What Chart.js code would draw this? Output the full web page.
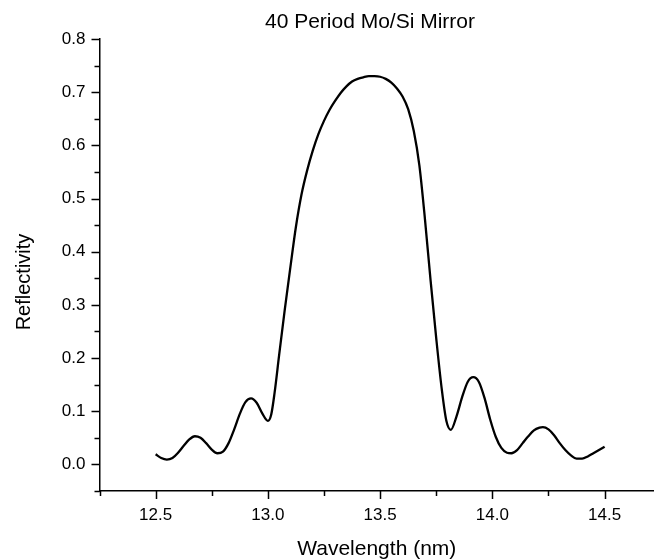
<!DOCTYPE html>
<html>
<head>
<meta charset="utf-8">
<script src="https://cdn.jsdelivr.net/npm/chart.js@4/dist/chart.umd.min.js"></script>
<style>
  html, body { margin: 0; padding: 0; background: #fff; }
</style>
</head>
<body>
<canvas id="chart" width="654" height="559"></canvas>
<script>
const chartTitle = '40 Period Mo/Si Mirror';
const xTitle = 'Wavelength (nm)';
const yTitle = 'Reflectivity';

const wavelength = [
  12.500, 12.525, 12.550, 12.575, 12.600, 12.625, 12.650, 12.675, 12.700, 12.725,
  12.750, 12.775, 12.800, 12.825, 12.850, 12.875, 12.900, 12.925, 12.950, 12.975,
  13.000, 13.015, 13.030, 13.050, 13.075, 13.100, 13.125, 13.150, 13.175, 13.200,
  13.225, 13.250, 13.275, 13.300, 13.325, 13.350, 13.375, 13.400, 13.425, 13.450,
  13.475, 13.500, 13.525, 13.550, 13.575, 13.600, 13.625, 13.650, 13.675, 13.700,
  13.725, 13.750, 13.775, 13.795, 13.815, 13.840, 13.865, 13.890, 13.915, 13.940,
  13.965, 13.990, 14.015, 14.040, 14.065, 14.085, 14.110, 14.135, 14.160, 14.185,
  14.210, 14.225, 14.250, 14.275, 14.300, 14.325, 14.350, 14.375, 14.400, 14.425,
  14.450, 14.475, 14.500
];
const reflectivity = [
  0.019, 0.012, 0.009, 0.012, 0.022, 0.035, 0.047, 0.053, 0.050, 0.040,
  0.028, 0.021, 0.024, 0.040, 0.066, 0.095, 0.117, 0.124, 0.116, 0.096,
  0.082, 0.094, 0.135, 0.205, 0.290, 0.370, 0.447, 0.508, 0.553, 0.590,
  0.621, 0.646, 0.667, 0.684, 0.699, 0.711, 0.720, 0.725, 0.728, 0.730,
  0.730, 0.729, 0.725, 0.718, 0.707, 0.692, 0.668, 0.627, 0.562, 0.460,
  0.345, 0.237, 0.140, 0.082, 0.065, 0.090, 0.126, 0.155, 0.164, 0.155,
  0.125, 0.085, 0.052, 0.031, 0.022, 0.021, 0.027, 0.040, 0.053, 0.064,
  0.069, 0.070, 0.066, 0.055, 0.040, 0.027, 0.017, 0.011, 0.011, 0.015,
  0.021, 0.027, 0.033
];

const xRange = [12.25, 14.72];
const yRange = [-0.05, 0.8];
const xStep = 0.25, xMajor = 0.5;
const yStep = 0.05, yMajor = 0.1;

const font = 'Liberation Sans, Arial, sans-serif';

function isMajor(v, step) {
  const r = v / step;
  return Math.abs(r - Math.round(r)) < 1e-6;
}

// tick marks (major long, minor short) and the titles
const decorations = {
  id: 'decorations',
  afterDraw(chart) {
    const ctx = chart.ctx;
    const xs = chart.scales.x, ys = chart.scales.y;
    ctx.save();
    ctx.strokeStyle = '#000';
    ctx.lineWidth = 1.5;
    ctx.beginPath();
    xs.ticks.forEach(t => {
      const px = Math.round(xs.getPixelForValue(t.value)) + 0.5;
      const len = isMajor(t.value, xMajor) ? 8 : 5;
      ctx.moveTo(px, xs.top);
      ctx.lineTo(px, xs.top + len);
    });
    ys.ticks.forEach(t => {
      const py = Math.round(ys.getPixelForValue(t.value)) + 0.5;
      const len = isMajor(t.value, yMajor) ? 8 : 5;
      ctx.moveTo(ys.right, py);
      ctx.lineTo(ys.right - len, py);
    });
    ctx.stroke();

    ctx.fillStyle = '#000';
    ctx.textAlign = 'center';
    ctx.textBaseline = 'alphabetic';
    ctx.font = '21px ' + font;
    ctx.fillText(chartTitle, 370, 28);
    ctx.fillText(xTitle, (chart.chartArea.left + chart.chartArea.right) / 2, 555);

    ctx.translate(30, 282);
    ctx.rotate(-Math.PI / 2);
    ctx.font = '20px ' + font;
    ctx.fillText(yTitle, 0, 0);
    ctx.restore();
  }
};

new Chart(document.getElementById('chart'), {
  type: 'line',
  data: {
    datasets: [{
      data: wavelength.map((w, i) => ({ x: w, y: reflectivity[i] })),
      borderColor: '#000',
      borderWidth: 2.3,
      pointRadius: 0,
      fill: false,
      cubicInterpolationMode: 'monotone'
    }]
  },
  options: {
    responsive: false,
    animation: false,
    devicePixelRatio: 1,
    layout: { padding: { top: 39, right: 0, left: 0, bottom: 0 } },
    plugins: { legend: { display: false }, tooltip: { enabled: false } },
    scales: {
      x: {
        type: 'linear',
        min: xRange[0],
        max: xRange[1],
        grid: { display: false, drawTicks: false },
        border: { display: true, color: '#000', width: 1.5 },
        ticks: {
          stepSize: xStep,
          includeBounds: false,
          autoSkip: false,
          maxRotation: 0,
          padding: 14,
          color: '#000',
          font: { family: font, size: 17 },
          callback: v => isMajor(v, xMajor) ? v.toFixed(1) : ''
        },
        afterFit: s => { s.height = 68; }
      },
      y: {
        min: yRange[0],
        max: yRange[1],
        grid: { display: false, drawTicks: false },
        border: { display: true, color: '#000', width: 1.5 },
        ticks: {
          stepSize: yStep,
          includeBounds: false,
          autoSkip: false,
          padding: 14,
          color: '#000',
          font: { family: font, size: 17 },
          callback: v => isMajor(v, yMajor) ? v.toFixed(1) : ''
        },
        afterFit: s => { s.width = 99.5; }
      }
    }
  },
  plugins: [decorations]
});
</script>
</body>
</html>
